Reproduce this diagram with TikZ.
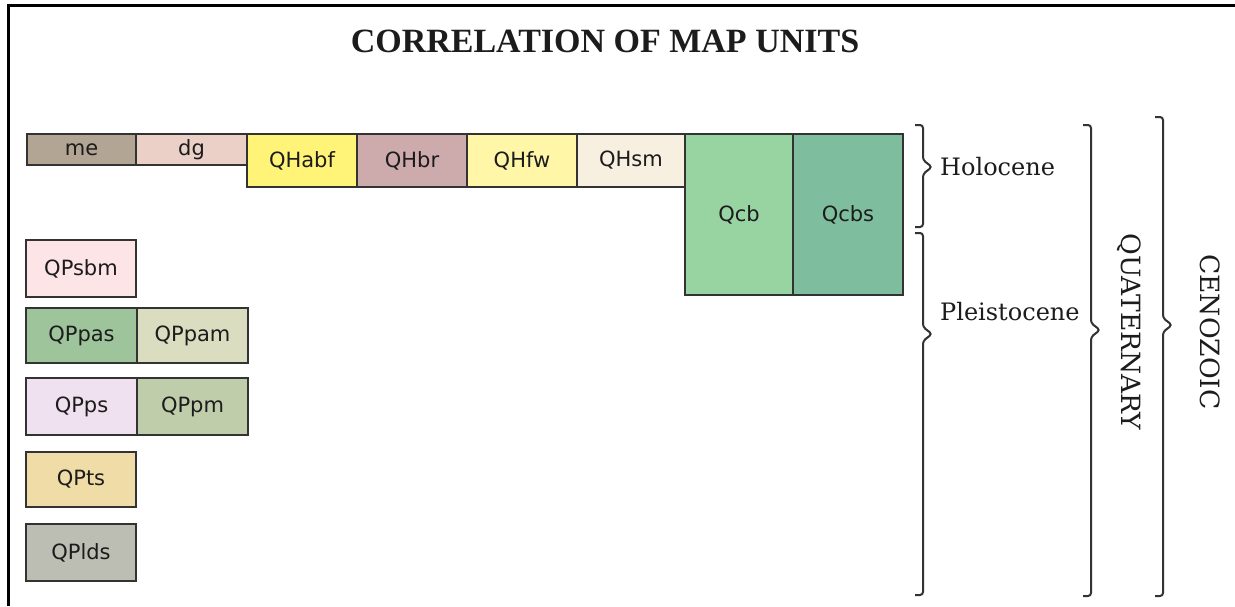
\documentclass[tikz,border=0pt]{standalone}
\usepackage{fontspec}
\setmainfont{DejaVu Serif}
\newfontfamily\titlefont{Liberation Serif}
\newfontfamily\unitfont{DejaVu Sans}

% unit fill colours
\definecolor{cme}{HTML}{B2A594}
\definecolor{cdg}{HTML}{EBD0C8}
\definecolor{cQHabf}{HTML}{FFF478}
\definecolor{cQHbr}{HTML}{CDAAAC}
\definecolor{cQHfw}{HTML}{FFF6A8}
\definecolor{cQHsm}{HTML}{F7EFE0}
\definecolor{cQcb}{HTML}{98D3A2}
\definecolor{cQcbs}{HTML}{7EBE9F}
\definecolor{cQPsbm}{HTML}{FDE4E7}
\definecolor{cQPpas}{HTML}{9EC49C}
\definecolor{cQPpam}{HTML}{DADDBF}
\definecolor{cQPps}{HTML}{EFE1EF}
\definecolor{cQPpm}{HTML}{BFCDAB}
\definecolor{cQPts}{HTML}{F0DCA6}
\definecolor{cQPlds}{HTML}{BCBEB4}
\definecolor{boxline}{HTML}{333333}
\definecolor{ink}{HTML}{1C1C1C}

\tikzset{
  unit/.style={draw=boxline, line width=1.5pt, anchor=north west, inner sep=0pt,
    outer sep=0pt, text=ink, font=\unitfont\fontsize{21}{21}\selectfont},
  bracestyle/.style={draw=boxline, line width=2pt, rounded corners=3pt},
  agelabel/.style={text=ink, inner sep=0pt, font=\fontsize{24}{24}\selectfont},
  erlabel/.style={text=ink, inner sep=0pt, rotate=-90, font=\fontsize{26.5}{26.5}\selectfont},
}

% a right-facing brace: x of the stem, top, tip and bottom ordinates
\newcommand\unitbrace[4]{%
  \draw[bracestyle] ({#1-8},#2) -- (#1,#2) -- (#1,{#3-7}) -- ({#1+9},#3)
    -- (#1,{#3+7}) -- (#1,#4) -- ({#1-8},#4);}

\begin{document}
\begin{tikzpicture}[x=1pt,y=-1pt]
\useasboundingbox (0,0) rectangle (1235,606);

% frame (top and left edges)
\draw[line width=3pt] (8.5,606) -- (8.5,5) -- (1235,5);

% title
\node[inner sep=0pt, text=ink, font=\titlefont\bfseries\fontsize{34}{34}\selectfont]
  (title) at (605,41) {CORRELATION OF MAP UNITS};

% Holocene row
\node[unit, fill=cme,    minimum width=109, minimum height=31] (me)    at (27,134)  {me};
\node[unit, fill=cdg,    minimum width=111, minimum height=31] (dg)    at (136,134) {dg};
\node[unit, fill=cQHabf, minimum width=110, minimum height=53] (QHabf) at (247,134) {QHabf};
\node[unit, fill=cQHbr,  minimum width=110, minimum height=53] (QHbr)  at (357,134) {QHbr};
\node[unit, fill=cQHfw,  minimum width=110, minimum height=53] (QHfw)  at (467,134) {QHfw};
\node[unit, fill=cQHsm,  minimum width=108, minimum height=53] (QHsm)  at (577,134) {QHsm};
\node[unit, fill=cQcb,   minimum width=108, minimum height=161] (Qcb)  at (685,134) {Qcb};
\node[unit, fill=cQcbs,  minimum width=110, minimum height=161] (Qcbs) at (793,134) {Qcbs};

% Pleistocene units
\node[unit, fill=cQPsbm, minimum width=110, minimum height=57] (QPsbm) at (26,240) {QPsbm};
\node[unit, fill=cQPpas, minimum width=111, minimum height=55] (QPpas) at (26,308) {QPpas};
\node[unit, fill=cQPpam, minimum width=111, minimum height=55] (QPpam) at (137,308) {QPpam};
\node[unit, fill=cQPps,  minimum width=111, minimum height=57] (QPps)  at (26,378) {QPps};
\node[unit, fill=cQPpm,  minimum width=111, minimum height=57] (QPpm)  at (137,378) {QPpm};
\node[unit, fill=cQPts,  minimum width=110, minimum height=55] (QPts)  at (26,452) {QPts};
\node[unit, fill=cQPlds, minimum width=110, minimum height=57] (QPlds) at (26,524) {QPlds};

% epoch, period and era brackets
\unitbrace{923}{125}{167}{227}
\unitbrace{923}{233}{334}{595}
\unitbrace{1091}{125}{330}{596}
\unitbrace{1163}{117}{325}{596}

\node[agelabel, anchor=base west] (holo)  at (940,175) {Holocene};
\node[agelabel, anchor=base west] (pleis) at (940,320) {Pleistocene};
\node[erlabel] (quat) at (1129,332) {QUATERNARY};
\node[erlabel] (ceno) at (1210,332) {CENOZOIC};
\end{tikzpicture}
\end{document}
